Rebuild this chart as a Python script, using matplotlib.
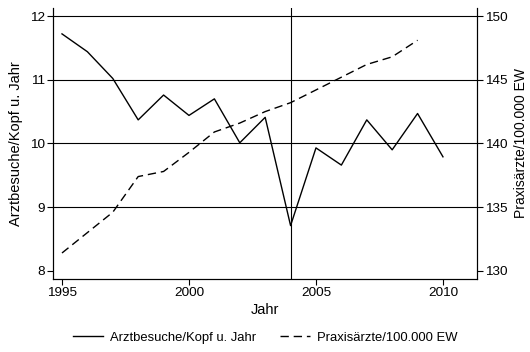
import numpy as np
import matplotlib.pyplot as plt

plt.rcParams['font.family'] = ['Liberation Sans', 'DejaVu Sans']
plt.rcParams['font.size'] = 9

# Jahre und Zeitreihen
jahre = np.arange(1995, 2011)
arztbesuche = [11.72, 11.44, 11.02, 10.37, 10.76, 10.44, 10.70, 10.01, 10.41,
               8.71, 9.93, 9.66, 10.37, 9.90, 10.47, 9.79]
jahre_aerzte = np.arange(1995, 2010)
praxisaerzte = [131.4, 133.0, 134.6, 137.4, 137.8, 139.3, 140.9, 141.6, 142.5,
                143.2, 144.2, 145.2, 146.2, 146.8, 148.1]

fig = plt.figure(figsize=(5.3, 3.52), dpi=100)
ax = fig.add_axes([0.1, 0.208, 0.8, 0.769])
ax2 = ax.twinx()

for y in [9, 10, 11, 12]:
    ax.axhline(y, color='black', lw=0.8, zorder=1)
ax.axvline(2004, color='black', lw=0.8, zorder=1)

l1, = ax.plot(jahre, arztbesuche, color='black', lw=1.0,
              label='Arztbesuche/Kopf u. Jahr', zorder=3)
l2, = ax2.plot(jahre_aerzte, praxisaerzte, color='black', lw=1.0,
               dashes=(6, 3.5), label='Praxisärzte/100.000 EW', zorder=3)

ax.set_xlim(1994.646, 2011.34)
ax.set_ylim(7.875, 12.125)
ax2.set_ylim(129.375, 150.625)

ax.set_xticks([1995, 2000, 2005, 2010])
ax.set_yticks([8, 9, 10, 11, 12])
ax2.set_yticks([130, 135, 140, 145, 150])

for a in (ax, ax2):
    a.spines['top'].set_visible(False)
    a.tick_params(direction='out', length=4, width=0.8, colors='black',
                  labelsize=9.7, pad=2)
    for s in a.spines.values():
        s.set_linewidth(0.8)

ax.set_xlabel('Jahr', fontsize=10.5, labelpad=3)
ax.set_ylabel('Arztbesuche/Kopf u. Jahr', fontsize=10.5, labelpad=5)
ax2.set_ylabel('Praxisärzte/100.000 EW', fontsize=10, labelpad=4)

fig.legend(handles=[l1, l2], loc='lower center', ncol=2, frameon=False,
           bbox_to_anchor=(0.5, -0.01), handlelength=2.3, handletextpad=0.55,
           columnspacing=1.8, fontsize=9.4)

fig.savefig('out.png', dpi=100)
